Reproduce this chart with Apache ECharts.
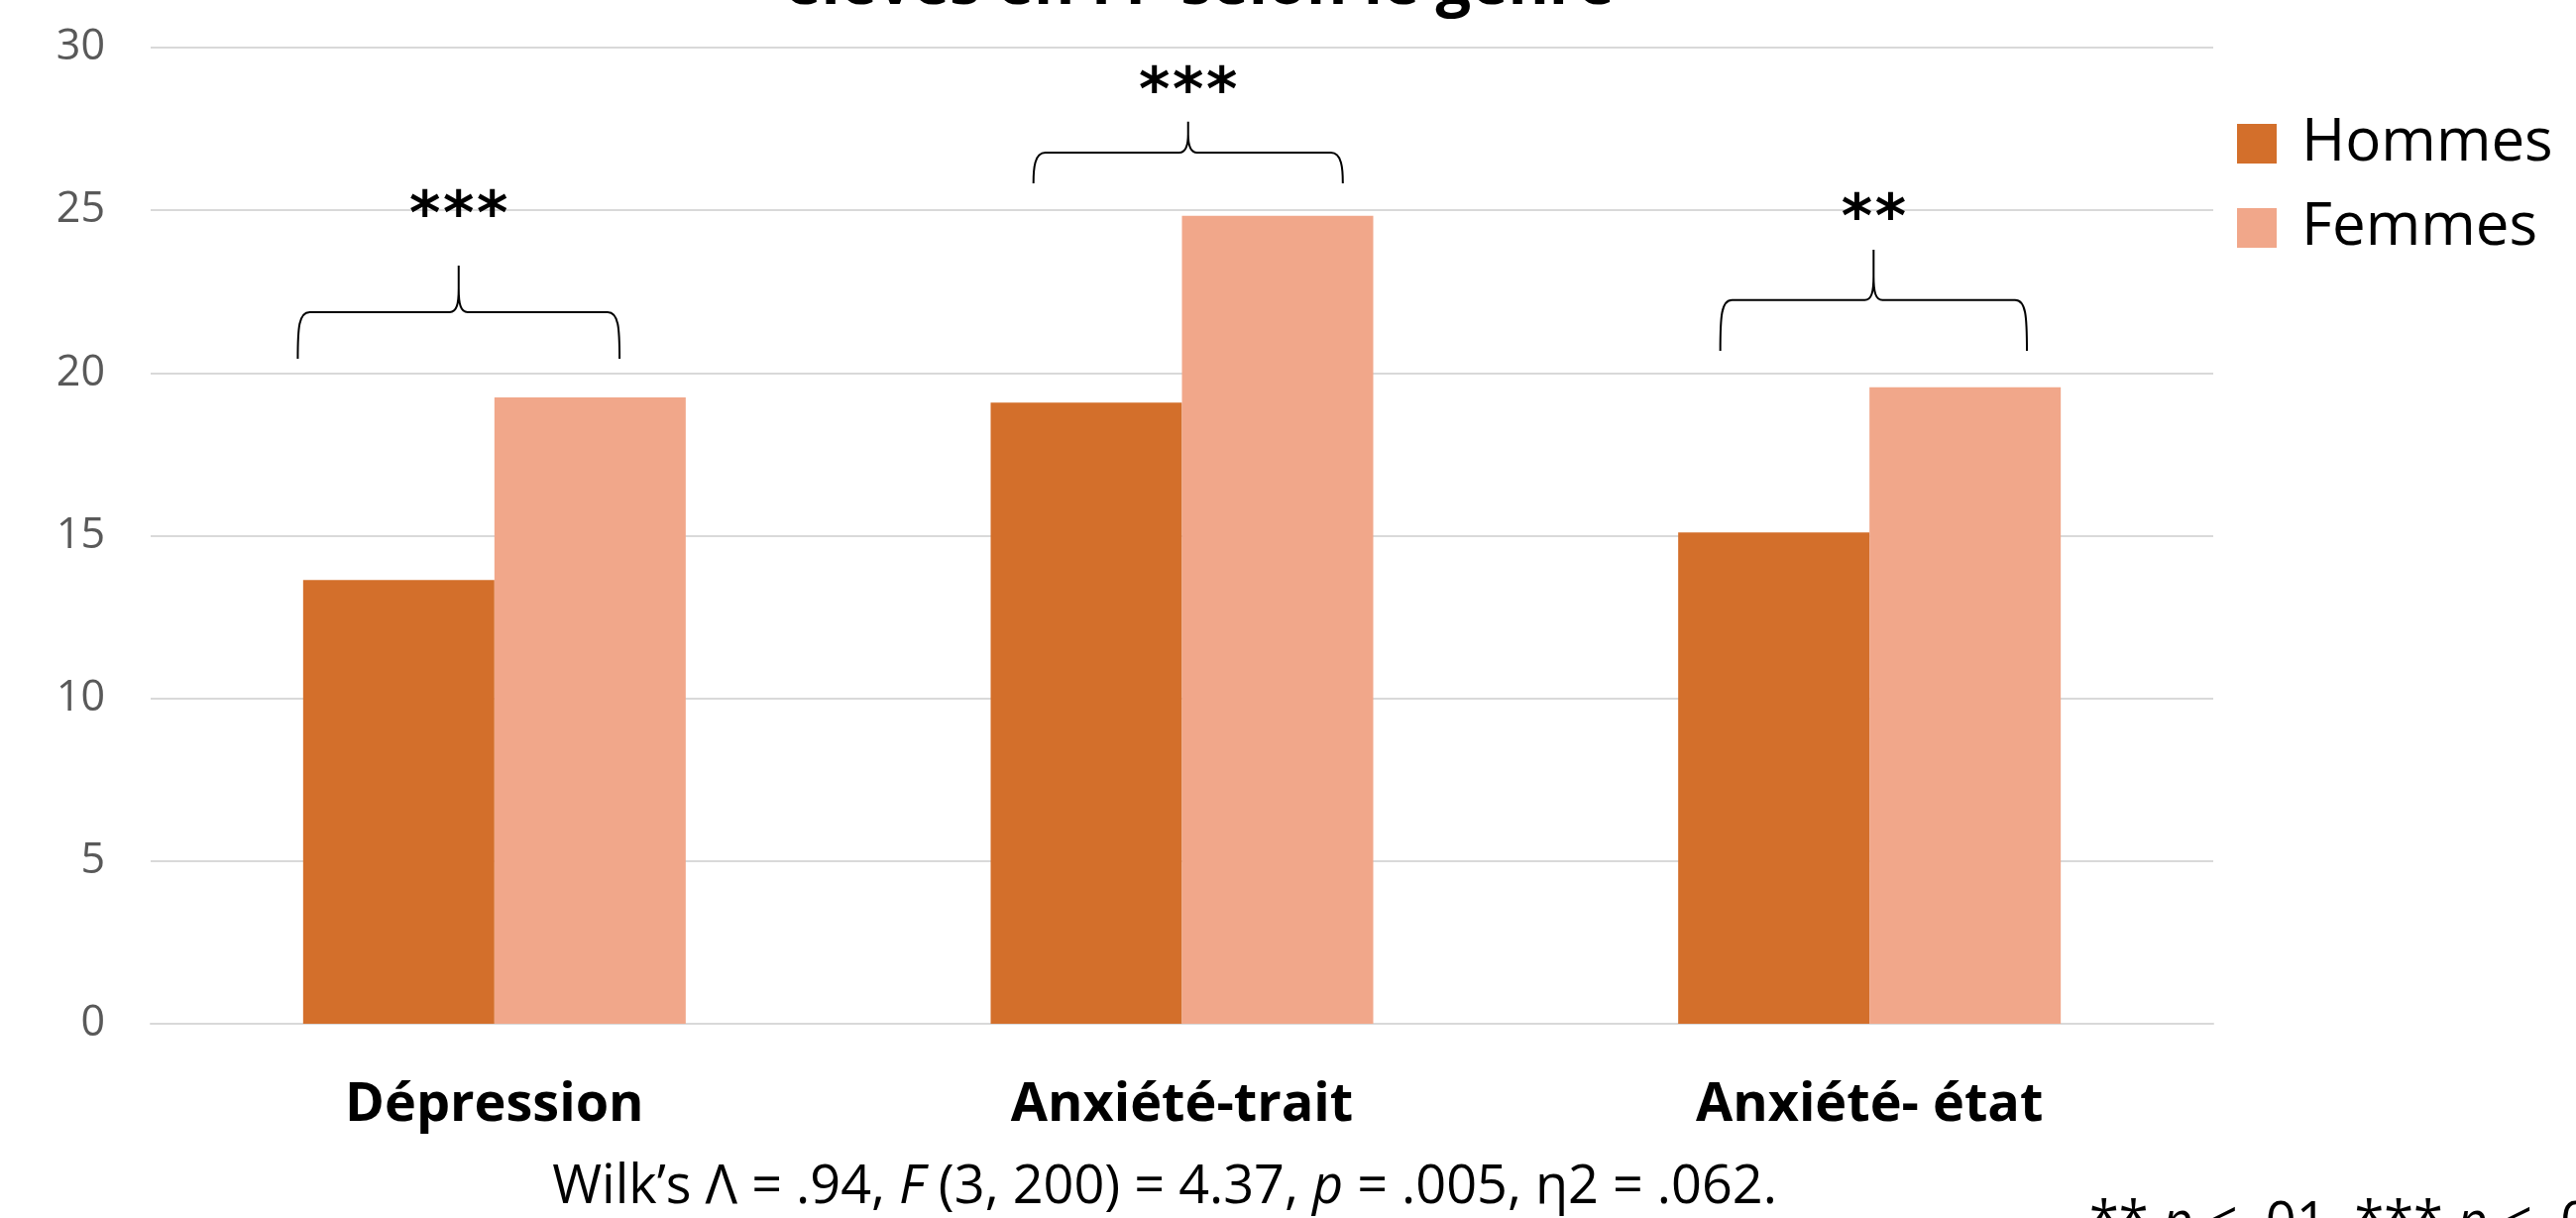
<!DOCTYPE html>
<html><head><meta charset="utf-8">
<script src="https://cdn.jsdelivr.net/npm/echarts@6/dist/echarts.min.js"></script>
<style>html,body{margin:0;padding:0;background:#fff}#c{width:2599px;height:1229px}</style>
</head><body><div id="c"></div>
<script>
// ---- data ----
const categories = ['Dépression', 'Anxiété-trait', 'Anxiété- état'];
const hommes = [13.64, 19.09, 15.10];
const femmes = [19.25, 24.83, 19.56];
const yMin = 0, yMax = 30, yStep = 5;
const significance = ['***', '***', '**'];
// brace levels (axis units)
const braceEnd = [20.44, 25.83, 20.68];
const braceBar = [21.87, 26.77, 22.24];
const braceTip = [23.30, 27.72, 23.79];
const starLevel = [25.19, 29.0, 25.10];
// brace horizontal placement (fraction of category band)
const braceShift = [-0.052, 0.009, 0.006];
const braceHalf = [0.234, 0.225, 0.223];

const chart = echarts.init(document.getElementById('c'), null, {renderer: 'canvas'});
const FONT = '"Open Sans", "Noto Sans", sans-serif';
const STAR_SIZE = 60;
const STAR_PITCH = 34;

function renderBrace(params, api) {
  const i = api.value(0);
  const bandW = api.size([1, 0])[0];
  const c = api.coord([i, braceBar[i]]);
  const xc = c[0] + braceShift[i] * bandW;
  const hw = braceHalf[i] * bandW;
  const yh = c[1];
  const yb = api.coord([i, braceEnd[i]])[1];
  const yt = api.coord([i, braceTip[i]])[1];
  const ys = api.coord([i, starLevel[i]])[1];
  const x0 = xc - hw, x1 = xc + hw;
  const cusp = Math.min(24, (yh - yt) * 0.6);
  const d = 'M' + x0 + ',' + yb +
    ' C' + x0 + ',' + (yh + 16) + ' ' + (x0 + 1) + ',' + yh + ' ' + (x0 + 12) + ',' + yh +
    ' L' + (xc - 9) + ',' + yh +
    ' C' + (xc - 2) + ',' + yh + ' ' + xc + ',' + (yh - 8) + ' ' + xc + ',' + (yh - cusp) +
    ' L' + xc + ',' + yt +
    ' M' + xc + ',' + (yh - cusp) +
    ' C' + xc + ',' + (yh - 8) + ' ' + (xc + 2) + ',' + yh + ' ' + (xc + 9) + ',' + yh +
    ' L' + (x1 - 12) + ',' + yh +
    ' C' + (x1 - 1) + ',' + yh + ' ' + x1 + ',' + (yh + 16) + ' ' + x1 + ',' + yb;
  const children = [
    {type: 'path', shape: {pathData: d}, style: {stroke: '#000', lineWidth: 2, fill: 'none'}}
  ];
  const stars = significance[i].split('');
  stars.forEach((s, k) => {
    children.push({type: 'text', x: xc + (k - (stars.length - 1) / 2) * STAR_PITCH,
      y: ys + 0.24 * STAR_SIZE,
      style: {text: s, font: 'bold ' + STAR_SIZE + 'px "DejaVu Sans"', fill: '#000',
        align: 'center', verticalAlign: 'middle'}});
  });
  return {type: 'group', children: children};
}

chart.setOption({
  backgroundColor: '#ffffff',
  animation: false,
  grid: {left: 152, right: 366, top: 48, bottom: 196},
  legend: {
    data: ['Hommes', 'Femmes'],
    orient: 'vertical',
    left: 2252, top: 110,
    itemWidth: 40, itemHeight: 40, itemGap: 25,
    icon: 'rect',
    textStyle: {fontFamily: FONT, fontSize: 60, color: '#000', padding: [0, 0, 0, 20]}
  },
  xAxis: {
    type: 'category',
    data: categories,
    axisLine: {show: true, lineStyle: {color: '#d9d9d9', width: 2}},
    axisTick: {show: false},
    axisLabel: {fontFamily: FONT, fontSize: 54, fontWeight: 'bold', color: '#000', margin: 56, interval: 0}
  },
  yAxis: {
    type: 'value',
    min: yMin, max: yMax, interval: yStep,
    axisLine: {show: false},
    axisTick: {show: false},
    axisLabel: {fontFamily: FONT, fontSize: 43, color: '#595959', margin: 46},
    splitLine: {lineStyle: {color: '#d9d9d9', width: 2}}
  },
  series: [
    {name: 'Hommes', type: 'bar', data: hommes, barWidth: 193, barGap: '0%',
      itemStyle: {color: '#D36F2B'}},
    {name: 'Femmes', type: 'bar', data: femmes, barWidth: 193,
      itemStyle: {color: '#F1A78A'}},
    {type: 'custom', renderItem: renderBrace, data: categories.map((c, i) => [i]),
      z: 10, silent: true, clip: false}
  ],
  graphic: [
    {type: 'text', x: 1210, y: -14, style: {text: 'élèves en FP selon le genre',
      font: 'bold 63px ' + FONT, fill: '#000', align: 'center', verticalAlign: 'middle'}},
    {type: 'text', x: 1175, y: 1199, style: {
      text: 'Wilk’s Λ = .94, {i|F} (3, 200) = 4.37, {i|p} = .005, η2 = .062.',
      fontFamily: FONT, fontSize: 54, fill: '#000', align: 'center', verticalAlign: 'middle',
      rich: {i: {fontFamily: FONT, fontSize: 54, fontStyle: 'italic', fill: '#000'}}}},
    {type: 'text', x: 2108, y: 1236, style: {
      text: '** {i|p} < .01, *** {i|p} < .001',
      fontFamily: FONT, fontSize: 54, fill: '#000', align: 'left', verticalAlign: 'middle',
      rich: {i: {fontFamily: FONT, fontSize: 54, fontStyle: 'italic', fill: '#000'}}}}
  ]
});
</script></body></html>
